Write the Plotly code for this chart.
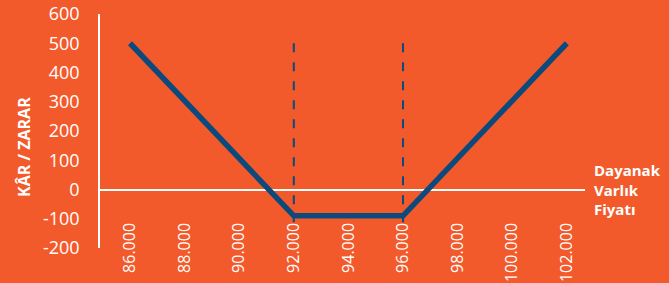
import plotly.graph_objects as go

# Data
price = [86000, 92000, 96000, 102000]
payoff = [500, -90, -90, 500]
strikes = [92000, 96000]
strike_low = -112
strike_high = 500
x_ticks = [86000, 88000, 90000, 92000, 94000, 96000, 98000, 100000, 102000]
x_ticktext = ["86.000", "88.000", "90.000", "92.000", "94.000", "96.000", "98.000", "100.000", "102.000"]
y_ticks = [-200, -100, 0, 100, 200, 300, 400, 500, 600]
y_ticktext = ["-200", "-100", "0", "100", "200", "300", "400", "500", "600"]

BG = "#F25A2B"
BLUE = "#0C4A7D"
FONT = "Open Sans"

fig = go.Figure()
for s in strikes:
    fig.add_trace(go.Scatter(x=[s, s], y=[strike_high, strike_low], mode="lines",
                             line=dict(color=BLUE, width=2, dash="9px,10px"),
                             hoverinfo="skip", showlegend=False))
fig.add_trace(go.Scatter(x=price, y=payoff, mode="lines",
                         line=dict(color=BLUE, width=5.5), showlegend=False))

fig.update_layout(
    width=669, height=283,
    margin=dict(l=100, r=84, t=14, b=35),
    paper_bgcolor=BG, plot_bgcolor=BG,
    font=dict(family=FONT, color="white"),
    xaxis=dict(range=[84901, 102666], tickvals=x_ticks, ticktext=x_ticktext,
               tickangle=-90, showgrid=False, zeroline=False, showline=False,
               anchor="free", position=0.125, automargin=False,
               tickfont=dict(size=16, color="white")),
    yaxis=dict(range=[-200, 600], tickvals=y_ticks, ticktext=y_ticktext, showgrid=False,
               zeroline=True, zerolinecolor="white", zerolinewidth=2,
               showline=True, linecolor="white", linewidth=1.5, automargin=False,
               ticklabelstandoff=15, tickfont=dict(size=18, color="white")),
    annotations=[
        dict(text="<b>Dayanak<br>Varlık<br>Fiyatı</b>", xref="paper", yref="y",
             x=1.0, y=0, xanchor="left", yanchor="middle", align="left",
             xshift=7, showarrow=False, font=dict(size=15, color="white", family=FONT)),
        dict(text="<b>KÂR / ZARAR</b>", xref="paper", yref="paper", x=0, y=0.432,
             xshift=-76, textangle=-90, xanchor="center", yanchor="middle",
             showarrow=False, font=dict(size=16, color="white", family=FONT)),
    ],
)

fig.write_html("out.html", config={"displayModeBar": False},
               post_script="document.body.style.margin='0';document.body.style.overflow='hidden';")
